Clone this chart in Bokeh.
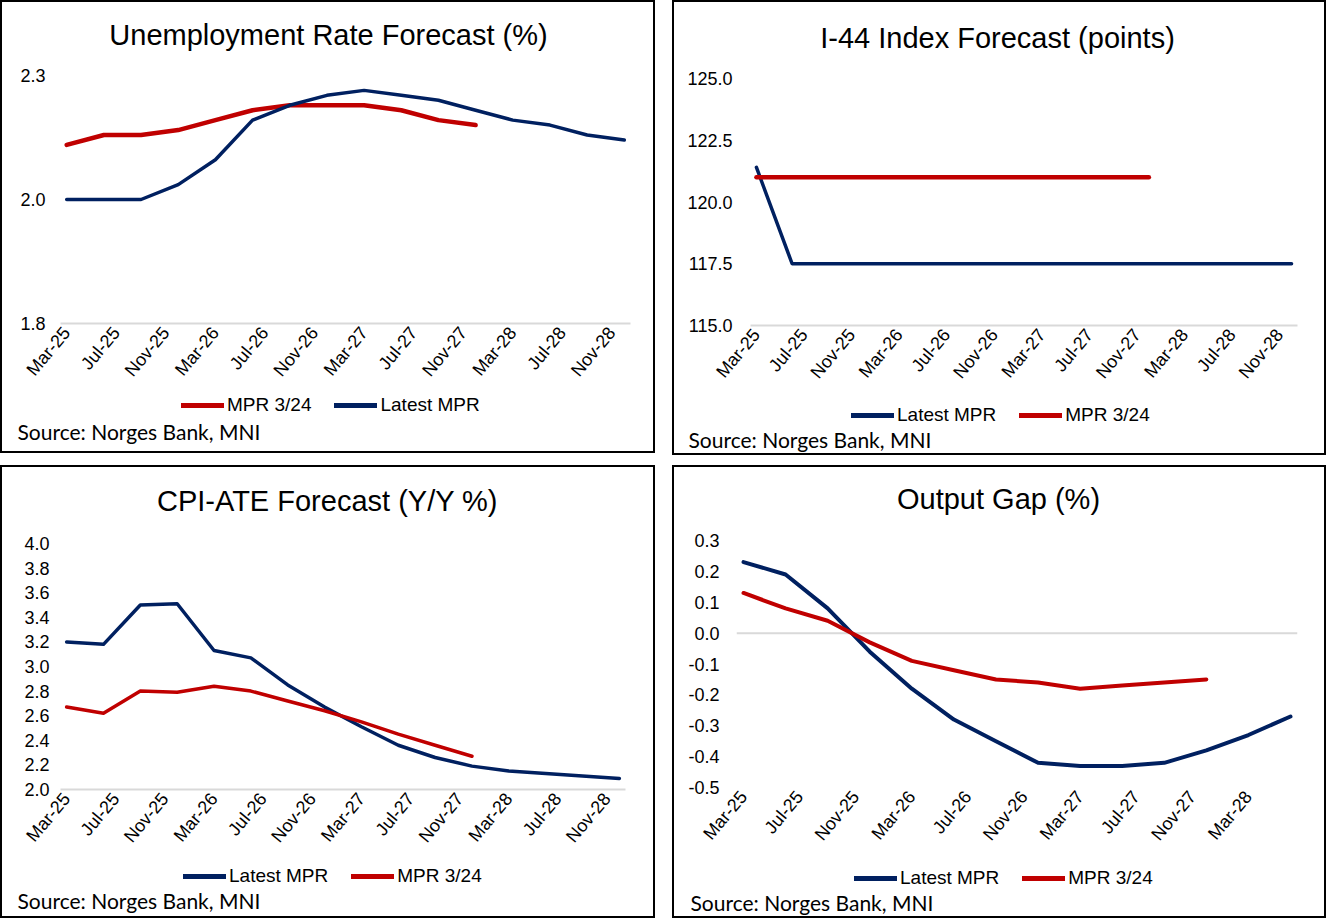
from math import pi
from bokeh.plotting import figure
from bokeh.layouts import column, row
from bokeh.models import (Range1d, FixedTicker, NumeralTickFormatter, Legend,
                          LegendItem, Span, Label, Title, InlineStyleSheet)
from bokeh.embed import file_html
from bokeh.resources import INLINE

# ---------------- data ----------------
quarters = ["Mar-25", "Jun-25", "Sep-25", "Dec-25", "Mar-26", "Jun-26", "Sep-26", "Dec-26",
            "Mar-27", "Jun-27", "Sep-27", "Dec-27", "Mar-28", "Jun-28", "Sep-28", "Dec-28"]
tick_labels = ["Mar-25", "Jul-25", "Nov-25", "Mar-26", "Jul-26", "Nov-26",
               "Mar-27", "Jul-27", "Nov-27", "Mar-28", "Jul-28", "Nov-28"]

unemp_latest = [2.00, 2.00, 2.00, 2.03, 2.08, 2.16, 2.19, 2.21, 2.22, 2.21, 2.20, 2.18, 2.16, 2.15, 2.13, 2.12]
unemp_prev = [2.11, 2.13, 2.13, 2.14, 2.16, 2.18, 2.19, 2.19, 2.19, 2.18, 2.16, 2.15]
unemp_yticks = [1.75, 2.0, 2.25]
unemp_ylabels = ["1.8", "2.0", "2.3"]

i44_latest = [121.4, 117.5, 117.5, 117.5, 117.5, 117.5, 117.5, 117.5,
              117.5, 117.5, 117.5, 117.5, 117.5, 117.5, 117.5, 117.5]
i44_prev = [121.0, 121.0, 121.0, 121.0, 121.0, 121.0, 121.0, 121.0, 121.0, 121.0, 121.0, 121.0]
i44_yticks = [115.0, 117.5, 120.0, 122.5, 125.0]

cpi_latest = [3.20, 3.18, 3.50, 3.51, 3.13, 3.07, 2.85, 2.67, 2.51, 2.36, 2.26, 2.19, 2.15, 2.13, 2.11, 2.09]
cpi_prev = [2.67, 2.62, 2.80, 2.79, 2.84, 2.80, 2.72, 2.64, 2.55, 2.45, 2.36, 2.27]
cpi_yticks = [2.0, 2.2, 2.4, 2.6, 2.8, 3.0, 3.2, 3.4, 3.6, 3.8, 4.0]

gap_latest = [0.23, 0.19, 0.08, -0.06, -0.18, -0.28, -0.35, -0.42, -0.43, -0.43, -0.42, -0.38, -0.33, -0.27]
gap_prev = [0.13, 0.08, 0.04, -0.03, -0.09, -0.12, -0.15, -0.16, -0.18, -0.17, -0.16, -0.15]
gap_yticks = [-0.5, -0.4, -0.3, -0.2, -0.1, 0.0, 0.1, 0.2, 0.3]

source_text = "Source: Norges Bank, MNI"

# ---------------- helpers ----------------
NAVY = "#002060"
RED = "#C00000"
AXIS_GREY = "#D9D9D9"
FONT = "Liberation Sans"
MON = {"Jan": 1, "Feb": 2, "Mar": 3, "Apr": 4, "May": 5, "Jun": 6,
       "Jul": 7, "Aug": 8, "Sep": 9, "Oct": 10, "Nov": 11, "Dec": 12}

BORDER_CSS = InlineStyleSheet(css="""
:host { position: relative; }
:host::after {
  content: "";
  position: absolute;
  left: 0; top: 0; right: 0; bottom: 0;
  border: 2px solid black;
  pointer-events: none;
  z-index: 100;
}
""")


def month_index(lbl):
    m, y = lbl.split("-")
    return (int(y) - 25) * 12 + MON[m] - 3


def blank_fig(w, h, left, right, bottom=0):
    # frame is aligned with the main chart's frame; x data units = panel pixels
    f = figure(width=w, height=h, output_backend="svg", toolbar_location=None,
               x_range=Range1d(left, w - right), y_range=Range1d(h - bottom, 0),
               x_axis_type=None, y_axis_type=None, min_border=0,
               min_border_left=left, min_border_right=right,
               min_border_top=0, min_border_bottom=bottom,
               background_fill_color="white", border_fill_color="white")
    f.outline_line_color = None
    return f


def make_panel(title, w, heights, borders, title_xy, ystand, x_last, ticks, yrange, yticks,
               series, legend_xy, foot_bottom, src_pos, ylabels=None, zero_axis=False):
    hh, hm, hf = heights
    left, right, top, bottom = borders

    # header with the title
    head = blank_fig(w, hh, left, right)
    head.add_layout(Label(x=title_xy[0], y=title_xy[1], text=title, text_align="center",
                          text_baseline="middle", text_font=FONT, text_font_size="29px",
                          text_color="black"))

    # main chart
    p = figure(width=w, height=hm, output_backend="svg", toolbar_location=None,
               x_range=Range1d(-0.5, month_index(x_last) + 0.5),
               y_range=Range1d(*yrange),
               min_border_left=left, min_border_right=right,
               min_border_top=top, min_border_bottom=bottom,
               background_fill_color="white", border_fill_color="white")
    p.outline_line_color = None
    p.xgrid.visible = False
    p.ygrid.visible = False

    for ax in (p.xaxis[0], p.yaxis[0]):
        ax.major_tick_line_color = None
        ax.minor_tick_line_color = None
        ax.major_tick_in = 0
        ax.major_tick_out = 0
        ax.minor_tick_in = 0
        ax.minor_tick_out = 0
        ax.major_label_text_font = FONT
        ax.major_label_text_font_size = "18px"
        ax.major_label_text_color = "black"

    xa = p.xaxis[0]
    xa.ticker = FixedTicker(ticks=[month_index(t) for t in ticks])
    xa.major_label_overrides = {month_index(t): t for t in ticks}
    xa.major_label_orientation = 50 * pi / 180
    xa.major_label_standoff = 6
    if zero_axis:
        xa.axis_line_color = None
        sp = Span(location=0, dimension="width", line_color=AXIS_GREY, line_width=2)
        sp.level = "underlay"
        p.add_layout(sp)
    else:
        xa.axis_line_color = AXIS_GREY
        xa.axis_line_width = 2

    ya = p.yaxis[0]
    ya.axis_line_color = None
    ya.major_label_standoff = ystand
    ya.ticker = FixedTicker(ticks=yticks)
    if ylabels is not None:
        ya.major_label_overrides = {t: l for t, l in zip(yticks, ylabels)}
    else:
        ya.formatter = NumeralTickFormatter(format="0.0")

    for name, vals, color, width in series:
        xs = [month_index(q) for q in quarters[:len(vals)]]
        p.line(xs, vals, line_color=color, line_width=width,
               line_join="round", line_cap="round")

    # footer: legend (inside its frame) and source line (title below)
    foot = blank_fig(w, hf, left, right, bottom=foot_bottom)
    items = []
    for name, vals, color, width in series:
        xs = [month_index(q) for q in quarters[:len(vals)]]
        r = foot.line(xs, vals, line_color=color, line_width=5, line_cap="round")
        r.visible = False  # only used for the legend swatch
        items.append(LegendItem(label=name, renderers=[r]))
    lx, ly = legend_xy
    leg = Legend(items=items, orientation="horizontal", location=(lx - left, ly),
                 glyph_width=43, glyph_height=20, label_standoff=3, spacing=23,
                 padding=0, margin=0, border_line_color=None,
                 background_fill_alpha=0, label_text_font=FONT,
                 label_text_font_size="19px", label_text_color="black")
    foot.add_layout(leg)
    src_x, src_stand = src_pos
    foot.add_layout(Title(text=source_text, align="left", offset=src_x - left,
                          standoff=src_stand, vertical_align="top",
                          text_font="Lato", text_font_size="21px",
                          text_font_style="normal", text_color="black"), "below")

    return column(head, p, foot, spacing=0, stylesheets=[BORDER_CSS])


p1 = make_panel("Unemployment Rate Forecast (%)", 655, (60, 330, 63), (60, 25, 15, 67),
                (328, 34), 15, "Dec-28", tick_labels, (1.75, 2.25), unemp_yticks,
                [("MPR 3/24", unemp_prev, RED, 4.5), ("Latest MPR", unemp_latest, NAVY, 3.5)],
                (181, 0), 37, (17, 4), ylabels=unemp_ylabels)
p2 = make_panel("I-44 Index Forecast (points)", 654, (60, 335, 60), (78, 29, 18, 70),
                (325, 37), 18, "Dec-28", tick_labels, (115.0, 125.0), i44_yticks,
                [("Latest MPR", i44_latest, NAVY, 3.5), ("MPR 3/24", i44_prev, RED, 4.5)],
                (179, 0), 29, (16, 0))
p3 = make_panel("CPI-ATE Forecast (Y/Y %)", 655, (60, 335, 58), (60, 30, 18, 71),
                (327, 35), 11, "Dec-28", tick_labels, (2.0, 4.0), cpi_yticks,
                [("Latest MPR", cpi_latest, NAVY, 3.5), ("MPR 3/24", cpi_prev, RED, 3.5)],
                (183, 0), 31, (17, 0))
p4 = make_panel("Output Gap (%)", 654, (60, 335, 58), (64, 29, 15, 73),
                (326, 33), 17, "Jun-28", tick_labels[:10], (-0.5, 0.3), gap_yticks,
                [("Latest MPR", gap_latest, NAVY, 4), ("MPR 3/24", gap_prev, RED, 4)],
                (182, 0), 29, (18, 0), zero_axis=True)

layout = column(row(p1, p2, spacing=17), row(p3, p4, spacing=17), spacing=10)
open("out.html", "w").write(file_html(layout, INLINE))
